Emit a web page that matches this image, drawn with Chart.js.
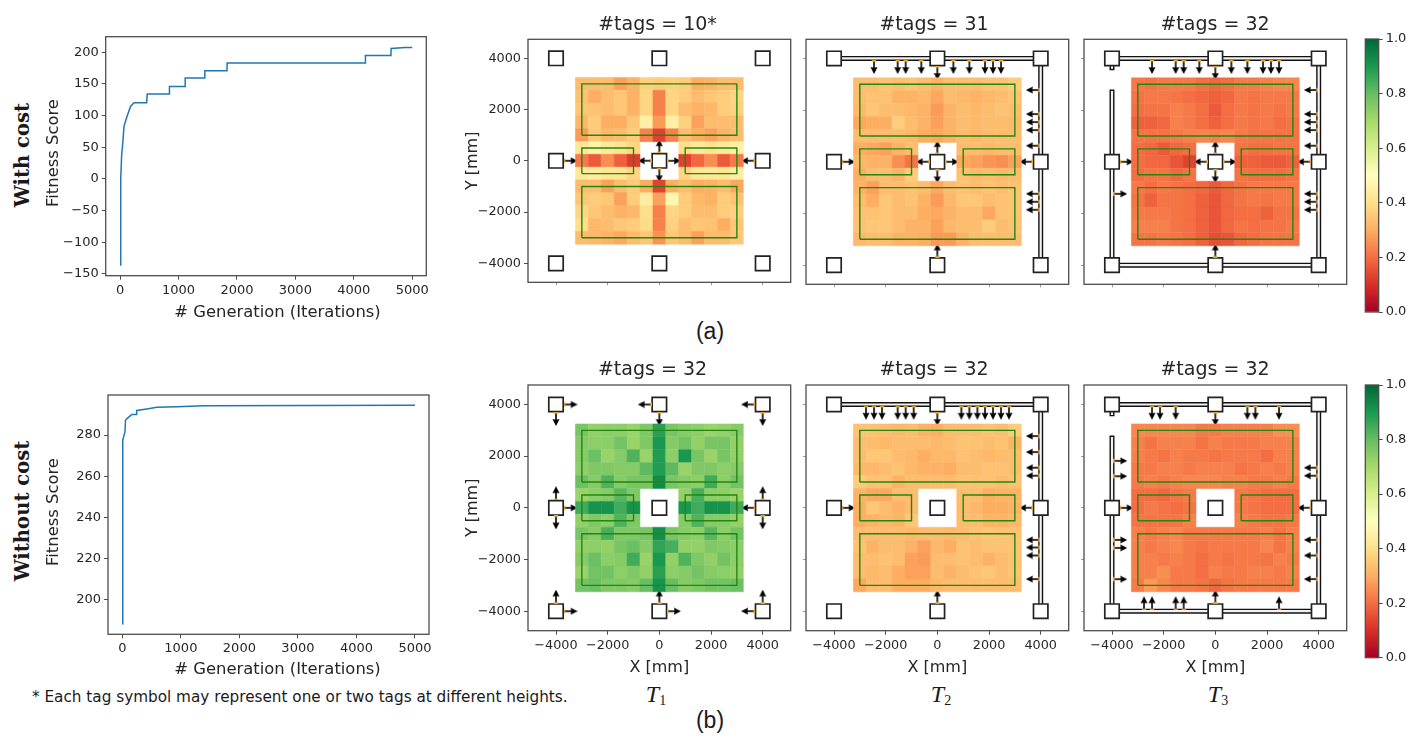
<!DOCTYPE html>
<html><head><meta charset="utf-8">
<script src="https://cdn.jsdelivr.net/npm/chart.js@4"></script>
<style>
html,body{margin:0;padding:0;background:#fff;width:1423px;height:738px;overflow:hidden;position:relative}
canvas{position:absolute;filter:blur(.35px)}
.t{position:absolute;transform:translate(-50%,-50%);white-space:nowrap;color:#1a1a1a}
.row{font:bold 19.6px "DejaVu Serif";transform:translate(-50%,-50%) rotate(-90deg)}
.cap{font:23px "Liberation Sans"}
.T{font:italic 24px "Liberation Serif"}
.T sub{font-style:normal;font-size:14px;vertical-align:-3px;line-height:0}
.note{font:15.25px "DejaVu Sans";transform:none}
.ttl{font:19px "DejaVu Sans";color:#262626}
.ax{font:16.4px "DejaVu Sans";color:#262626}
.axv{font:16.4px "DejaVu Sans";color:#262626;transform:translate(-50%,-50%) rotate(-90deg)}
</style></head><body>
<script>
// ---------- fitness curves ----------
const costGen   = [0,8,16,28,45,68,100,143,182,240,456,465,843,846,1112,1115,1448,1451,1830,1833,4196,4199,4635,4638,4875,5000];
const costFit   = [-136,-60,0,38,54,83,93,105,115,120.5,120.5,134,134,146,146,159.5,159.5,171,171,183,183,195,195,206,207.5,207.5];
const freeGen   = [0,4,10,25,45,55,100,160,240,245,417,590,930,1400,5000];
const freeFit   = [188,240,277.6,279.5,281.5,287.3,288.5,290,290,292,292.7,293.5,293.8,294.3,294.5];
const genTicks  = [0,1000,2000,3000,4000,5000];
const costTicks = [-150,-100,-50,0,50,100,150,200];
const freeTicks = [200,220,240,260,280];

// ---------- coverage maps: rows from y=+3000 down to y=-3000, columns from x=-3000 to x=+3000, in percent ----------
const _ = null;
const heatA1 = [
[33,33,33,28,31,37,36,37,36,30,31,33,33],
[34,30,33,35,31,38,23,38,36,33,35,36,38],
[35,34,33,35,31,38,23,38,33,31,32,36,37],
[32,36,30,30,35,45,27,45,37,28,33,33,33],
[27,35,32,33,36,23,13,23,33,30,28,31,33],
[42,46,43,41,38,_,_,_,40,43,41,43,45],
[22,17,25,18,12,_,_,_,13,19,25,17,22],
[43,44,42,42,38,_,_,_,38,42,43,42,44],
[33,33,28,33,36,30,13,30,33,30,31,33,29],
[35,36,35,28,36,44,28,47,36,32,31,36,34],
[38,35,33,31,32,40,23,38,36,33,33,36,37],
[40,32,33,35,36,39,23,37,33,35,34,30,35],
[33,32,31,29,33,35,26,35,33,28,33,33,35]];
const heatA2 = [
[33,33,34,33,34,33,31,33,33,33,34,34,36],
[33,34,34,31,31,32,29,33,32,31,32,33,34],
[32,35,33,33,32,31,27,31,33,32,33,34,33],
[29,30,30,36,33,31,28,31,33,32,33,33,32],
[33,33,33,33,32,30,29,31,33,32,33,33,33],
[30,29,28,31,33,_,_,_,33,33,32,33,33],
[32,31,31,25,21,_,_,_,29,28,26,25,28],
[30,33,33,31,36,_,_,_,34,32,33,32,33],
[31,28,33,33,34,33,29,33,34,33,34,33,34],
[33,30,35,33,34,31,27,32,35,35,33,34,34],
[34,34,35,33,33,30,29,31,33,33,29,34,34],
[34,35,35,33,31,31,28,32,33,33,36,33,34],
[32,33,33,31,31,30,27,27,31,33,33,33,33]];
const heatA3 = [
[22,21,22,22,22,20,19,20,22,22,23,24,24],
[21,22,22,21,20,19,18,19,22,21,22,22,22],
[20,21,21,23,22,20,17,20,22,21,22,21,22],
[18,18,19,23,22,20,18,20,22,21,22,20,21],
[21,21,21,22,23,24,23,24,22,21,21,21,21],
[20,19,17,19,20,_,_,_,21,20,20,21,21],
[20,19,19,16,13,_,_,_,18,18,17,17,18],
[20,21,21,19,21,_,_,_,21,20,20,20,21],
[22,20,22,21,20,19,17,19,21,22,22,22,22],
[21,18,21,21,20,18,16,19,21,22,21,22,22],
[22,22,22,21,20,18,16,19,20,20,18,21,21],
[23,23,23,21,20,18,16,19,21,20,21,21,22],
[21,21,22,21,20,18,15,16,19,20,21,21,21]];
const heatB1 = [
[77,73,74,74,72,76,88,77,75,74,72,73,75],
[75,74,74,78,72,76,90,75,78,73,77,77,73],
[75,79,72,75,83,72,89,74,90,77,72,77,73],
[74,76,76,75,75,81,89,81,72,76,76,74,75],
[79,75,83,75,77,77,93,77,75,74,85,74,78],
[72,74,75,82,76,_,_,_,73,84,74,74,72],
[85,91,91,85,91,_,_,_,90,85,91,91,85],
[73,76,74,83,76,_,_,_,75,83,75,75,73],
[77,75,84,76,76,77,92,77,75,74,82,74,78],
[73,74,73,77,79,75,87,84,73,73,76,75,74],
[75,79,74,75,85,72,90,73,83,76,73,78,74],
[72,78,78,74,76,73,88,74,75,78,75,74,73],
[78,79,76,76,75,80,91,80,75,76,78,78,79]];
const heatB2 = [
[34,34,33,32,33,31,30,33,33,33,34,33,36],
[33,33,32,33,33,33,32,33,34,34,33,34,31],
[33,35,35,33,32,30,32,32,34,33,32,33,33],
[32,32,33,34,32,31,31,30,33,33,34,34,33],
[36,34,34,31,33,33,33,33,34,34,34,33,34],
[31,29,29,33,33,_,_,_,33,33,30,31,31],
[30,35,33,31,33,_,_,_,33,32,30,30,31],
[30,31,32,31,35,_,_,_,33,33,31,31,32],
[33,33,33,33,32,33,33,32,33,34,35,34,34],
[34,31,33,33,31,28,32,30,34,33,34,34,34],
[33,33,34,33,28,27,33,33,34,33,31,33,34],
[33,32,33,30,28,28,33,31,33,34,35,33,34],
[29,33,33,30,30,30,32,33,33,33,33,33,33]];
const heatB3 = [
[24,24,24,24,24,22,22,23,23,23,23,25,25],
[23,21,23,23,23,21,23,22,22,22,23,23,23],
[23,22,21,23,22,22,21,22,22,22,20,23,23],
[22,22,23,23,22,23,23,23,21,22,23,22,23],
[22,23,22,23,24,24,24,23,23,22,22,23,22],
[20,20,19,21,22,_,_,_,22,21,20,20,20],
[20,22,21,20,21,_,_,_,22,21,20,20,20],
[21,21,21,21,23,_,_,_,23,22,21,21,22],
[23,22,23,24,22,22,22,22,22,22,23,21,23],
[23,22,23,24,22,21,22,22,22,22,24,21,23],
[23,23,22,23,22,20,22,21,22,22,21,23,22],
[23,23,25,22,22,20,23,22,22,23,23,22,23],
[22,27,24,22,22,21,19,21,22,22,22,22,22]];

// ---------- floor-plan elements, in millimetres ----------
const readers = [[-4000,4000],[0,4000],[4000,4000],[-4000,0],[0,0],[4000,0],[-4000,-4000],[0,-4000],[4000,-4000]];
const zones   = [[-3000,1000,3000,3000],[-3000,-500,-1000,500],[1000,-500,3000,500],[-3000,-3000,3000,-1000]];
const tickMm  = [-4000,-2000,0,2000,4000];
const railTop = [-4000,4000,4000,4000], railRight = [4000,4000,4000,-4000];
const railLeft = [-4000,2700,-4000,-4000], railBottom = [-4000,-4000,4000,-4000], railStub = [-4000,4000,-4000,3640];

// tags: x, y, facing direction
const coreCross = [[0,310,'U'],[0,-310,'D'],[-310,0,'L'],[310,0,'R']];
const sideTags  = [[-3690,0,'R'],[3690,0,'L']];
const tagsA1 = [...sideTags,...coreCross];
const topRowA = [-2450,-1535,-1225,-620,620,1240,1845,2155,2465].map(x=>[x,3920,'D']);
const rightColA = [2775,1845,1535,1225,620,-1240,-1550,-1860].map(y=>[3950,y,'L']);
const tagsA2 = [...sideTags,...coreCross,...topRowA,...rightColA,[0,3690,'D'],[0,-3690,'U']];
const tagsA3 = [...tagsA2,[-3935,-1240,'R']];
const tagsB1 = [[-3690,4000,'R'],[-4000,3690,'D'],[-310,4000,'L'],[0,3690,'D'],[3690,4000,'L'],[4000,3690,'D'],
  [-4000,310,'U'],[-3690,0,'R'],[-4000,-310,'D'],[4000,310,'U'],[3690,0,'L'],[4000,-310,'D'],
  [-4000,-3690,'U'],[-3690,-4000,'R'],[0,-3690,'U'],[310,-4000,'R'],[4000,-3690,'U'],[3690,-4000,'L']];
const topRowB = [-2760,-2450,-2140,-1535,-1225,-915,930,1240,1550,1845,2155,2465,2775].map(x=>[x,3935,'D']);
const rightColB = [2775,2155,1550,1240,-1240,-1535,-1845,-2760].map(y=>[3950,y,'L']);
const tagsB2 = [...sideTags,...topRowB,...rightColB,[0,3690,'D'],[0,-3690,'U']];
const tagsB3 = [...sideTags,[0,3690,'D'],[0,-3690,'U'],
  ...[-2450,-2140,-1535,1240,1550,2465].map(x=>[x,3935,'D']),
  ...[1550,1240,-1240,-1845,-2760].map(y=>[3950,y,'L']),
  ...[1820,1225,-1240,-1550,-2760].map(y=>[-3935,y,'R']),
  ...[-2760,-2450,-1535,-1225,2465].map(x=>[x,-3950,'U'])];

// ---------- colour map and colour bar ----------
const colorStops = ['#a50026','#d73027','#f46d43','#fdae61','#fee08b','#ffffbf','#d9ef8b','#a6d96a','#66bd63','#1a9850','#006837'];
const colorTicks = [0,0.2,0.4,0.6,0.8,1];

// ---------- helpers ----------
const FONT='"DejaVu Sans"', INK='#262626', SPINE='#4d4d4d';
const hex=h=>[1,3,5].map(i=>parseInt(h.substr(i,2),16));
function cmap(v){const p=Math.min(.9999,Math.max(0,v))*10,i=Math.floor(p),f=p-i,a=hex(colorStops[i]),b=hex(colorStops[i+1]);
  return `rgb(${a.map((c,k)=>Math.round(c+(b[k]-c)*f)).join(',')})`;}
const minus=v=>String(v).replace('-','\u2212');
const framePlugin={id:'frame',afterDraw(c){const a=c.chartArea,x=c.ctx;x.save();x.strokeStyle=SPINE;x.lineWidth=1.3;
  x.strokeRect(a.left,a.top,a.right-a.left,a.bottom-a.top);x.restore();}};

function mount(plot,marg){
  const cv=document.createElement('canvas');
  const L=Math.floor(plot.l-marg.l),T=Math.floor(plot.t-marg.t),R=Math.ceil(plot.r+marg.r),B=Math.ceil(plot.b+marg.b);
  cv.width=R-L;cv.height=B-T;cv.style.left=L+'px';cv.style.top=T+'px';cv.style.width=(R-L)+'px';cv.style.height=(B-T)+'px';
  document.body.appendChild(cv);
  return {cv,left:plot.l-L,top:plot.t-T,right:R-plot.r,bottom:B-plot.b};
}
function axis(cfg){
  return {type:'linear',position:cfg.pos,min:cfg.min,max:cfg.max,
    afterBuildTicks:s=>{s.ticks=cfg.ticks.map(v=>({value:v}))},
    afterFit:s=>{if(cfg.pos==='bottom')s.height=cfg.size;else s.width=cfg.size},
    grid:{display:true,drawOnChartArea:false,drawTicks:true,tickLength:cfg.tickLen||4,tickColor:cfg.tickCol||SPINE,tickWidth:1},
    border:{display:false},
    ticks:{display:cfg.labels,autoSkip:false,maxRotation:0,minRotation:0,padding:3,color:INK,
      font:{family:FONT,size:cfg.fs||13},callback:cfg.fmt||minus},
    title:{display:!!cfg.title,text:cfg.title||'',color:INK,padding:0,font:{family:FONT,size:cfg.ts||16,lineHeight:1.2}}};
}
function lineChart(plot,xs,ys,xr,yr,yt,marg){
  const m=mount(plot,marg);
  new Chart(m.cv,{type:'scatter',plugins:[framePlugin],
    data:{datasets:[{data:xs.map((x,i)=>({x,y:ys[i]})),showLine:true,pointRadius:0,borderColor:'#1f77b4',borderWidth:1.5,tension:0}]},
    options:{responsive:false,animation:false,devicePixelRatio:1,
      layout:{autoPadding:false,padding:{top:m.top,right:m.right,left:0,bottom:0}},
      plugins:{legend:{display:false},tooltip:{enabled:false}},
      scales:{x:axis({pos:'bottom',min:xr[0],max:xr[1],ticks:genTicks,size:m.bottom,labels:true}),
              y:axis({pos:'left',min:yr[0],max:yr[1],ticks:yt,size:m.left,labels:true})}}});
}
const arrowImg=(()=>{const c=document.createElement('canvas');c.width=14;c.height=8;const g=c.getContext('2d');
  g.fillStyle='#000';g.fillRect(1,3.2,7.5,1.6);
  g.beginPath();g.moveTo(14,4);g.lineTo(7,.6);g.lineTo(7.6,4);g.lineTo(7,7.4);g.closePath();g.fill();
  g.fillStyle='#f5a623';g.fillRect(0,1.8,1.6,4.4);return c;})();
const ROT={R:0,D:90,L:180,U:270}, VEC={R:[1,0],L:[-1,0],U:[0,1],D:[0,-1]};
const ARROW_MM=510;

function mapChart(plot,o){
  const mm=206.7/8000;
  const marg={l:o.yLabels?65:6,t:12,r:8,b:o.xLabels?46:8};
  const m=mount(plot,marg);
  const halfX=(plot.r-plot.l)/2/mm, halfY=(plot.b-plot.t)/2/mm;
  const cells=[];
  o.heat.forEach((row,r)=>row.forEach((v,c)=>{if(v!==null)cells.push({x:-3000+500*c,y:3000-500*r,v:v/100})}));
  const ds=[];
  const rail=(a,w,col,ord)=>({data:[{x:a[0],y:a[1]},{x:a[2],y:a[3]}],showLine:true,pointRadius:0,borderColor:col,borderWidth:w,borderCapStyle:'square',order:ord});
  (o.rails||[]).forEach(a=>{ds.push(rail(a,5,'#111',8));ds.push(rail(a,2.2,'#f2f2f2',7));});
  ds.push({data:readers.map(([x,y])=>({x,y})),pointStyle:'rect',pointRadius:10.2,pointBackgroundColor:'#fff',pointBorderColor:'#222',pointBorderWidth:1.7,order:6});
  ds.push({data:o.tags.map(([x,y,d])=>({x:x+VEC[d][0]*ARROW_MM/2,y:y+VEC[d][1]*ARROW_MM/2})),
    pointStyle:arrowImg,pointRadius:7,pointRotation:o.tags.map(t=>ROT[t[2]]),order:5});
  ds.push({data:cells,pointStyle:'rect',order:3,
    pointRadius:c=>Math.abs(c.chart.scales.x.getPixelForValue(500)-c.chart.scales.x.getPixelForValue(0))/2*Math.SQRT2,
    pointBackgroundColor:c=>cmap(c.raw.v),pointBorderColor:c=>cmap(c.raw.v),pointBorderWidth:.5});
  zones.forEach(z=>ds.push({data:[[z[0],z[1]],[z[2],z[1]],[z[2],z[3]],[z[0],z[3]],[z[0],z[1]]].map(([x,y])=>({x,y})),
    showLine:true,pointRadius:0,borderColor:'#23860f',borderWidth:1.4,order:2}));
  new Chart(m.cv,{type:'scatter',plugins:[framePlugin],data:{datasets:ds},
    options:{responsive:false,animation:false,devicePixelRatio:1,
      layout:{autoPadding:false,padding:{top:m.top,right:m.right,left:0,bottom:0}},
      plugins:{legend:{display:false},tooltip:{enabled:false}},
      scales:{x:axis({pos:'bottom',min:-halfX,max:halfX,ticks:tickMm,size:m.bottom,labels:o.xLabels,title:o.xLabels?'X [mm]':'',tickLen:o.xLabels?4:3,tickCol:o.xLabels?SPINE:'#999',fs:12.8}),
              y:axis({pos:'left',min:-halfY,max:halfY,ticks:tickMm,size:m.left,labels:o.yLabels,title:o.yLabels?'Y [mm]':'',tickLen:o.yLabels?4:3,tickCol:o.yLabels?SPINE:'#999',fs:12.8})}}});
}
function colorBar(plot){
  const m=mount(plot,{l:1,t:12,r:46,b:12});
  new Chart(m.cv,{type:'bar',plugins:[framePlugin],
    data:{labels:[''],datasets:[{data:[[0,1]],barPercentage:1,categoryPercentage:1,borderWidth:0,
      backgroundColor:c=>{const y=c.chart.scales.y;if(!y||!c.chart.chartArea)return colorStops[0];
        const g=c.chart.ctx.createLinearGradient(0,y.getPixelForValue(0),0,y.getPixelForValue(1));
        colorStops.forEach((s,i)=>g.addColorStop(i/10,s));return g;}}]},
    options:{responsive:false,animation:false,devicePixelRatio:1,
      layout:{autoPadding:false,padding:{top:m.top,bottom:m.bottom,left:m.left,right:0}},
      plugins:{legend:{display:false},tooltip:{enabled:false}},
      scales:{x:{display:false},
        y:{type:'linear',position:'right',min:0,max:1,
          afterBuildTicks:s=>{s.ticks=colorTicks.map(v=>({value:v}))},
          afterFit:s=>{s.width=m.right},
          grid:{display:true,drawOnChartArea:false,tickLength:4,tickColor:SPINE},border:{display:false},
          ticks:{padding:3,color:INK,autoSkip:false,font:{family:FONT,size:13},callback:v=>v.toFixed(1)}}}}});
}
function text(cls,html,x,y){const d=document.createElement('div');d.className='t '+cls;d.innerHTML=html;d.style.left=x+'px';d.style.top=y+'px';document.body.appendChild(d);}

// ---------- figure ----------
lineChart({l:105.7,r:426.3,t:36.7,b:275.7},costGen,costFit,[-245,5240],[-152.7,224.6],costTicks,{l:64,t:14,r:22,b:45});
lineChart({l:108,r:429,t:395,b:634.3},freeGen,freeFit,[-245,5240],[183,299.5],freeTicks,{l:66,t:14,r:22,b:45});

const ROW_A={t:39.3,b:284.3}, ROW_B={t:385,b:630.7};
const COLS=[{l:528,r:790.7},{l:806,r:1068.7},{l:1084,r:1346.7}];
mapChart({...COLS[0],...ROW_A},{heat:heatA1,tags:tagsA1,yLabels:true,xLabels:false});
mapChart({...COLS[1],...ROW_A},{heat:heatA2,tags:tagsA2,rails:[railTop,railRight],yLabels:false,xLabels:false});
mapChart({...COLS[2],...ROW_A},{heat:heatA3,tags:tagsA3,rails:[railTop,railRight,railLeft,railBottom,railStub],yLabels:false,xLabels:false});
mapChart({...COLS[0],...ROW_B},{heat:heatB1,tags:tagsB1,yLabels:true,xLabels:true});
mapChart({...COLS[1],...ROW_B},{heat:heatB2,tags:tagsB2,rails:[railTop,railRight],yLabels:false,xLabels:true});
mapChart({...COLS[2],...ROW_B},{heat:heatB3,tags:tagsB3,rails:[railTop,railRight,railLeft,railBottom,railStub],yLabels:false,xLabels:true});
colorBar({l:1365.3,r:1378.7,t:39,b:312});
colorBar({l:1365.3,r:1378.7,t:385,b:657.7});

text('ttl','#tags = 10*',657.5,23);
text('ttl','#tags = 31',934,23);
text('ttl','#tags = 32',1215,23);
text('ttl','#tags = 32',652.5,368);
text('ttl','#tags = 32',934,368);
text('ttl','#tags = 32',1215,368);
text('ax','# Generation (Iterations)',277.5,311);
text('ax','# Generation (Iterations)',277.5,668);
text('axv','Fitness Score',52,153);
text('axv','Fitness Score',52,512);
text('row','With cost',21.5,155);
text('row','Without cost',22,511);
text('cap','(a)',710,331);
text('cap','(b)',710,720);
text('T','<i>T</i><sub>1</sub>',656,694);
text('T','<i>T</i><sub>2</sub>',941,694);
text('T','<i>T</i><sub>3</sub>',1218,694);
const n=document.createElement('div');n.className='t note';n.style.left='32px';n.style.top='688px';
n.textContent='* Each tag symbol may represent one or two tags at different heights.';document.body.appendChild(n);
</script>
</body></html>
